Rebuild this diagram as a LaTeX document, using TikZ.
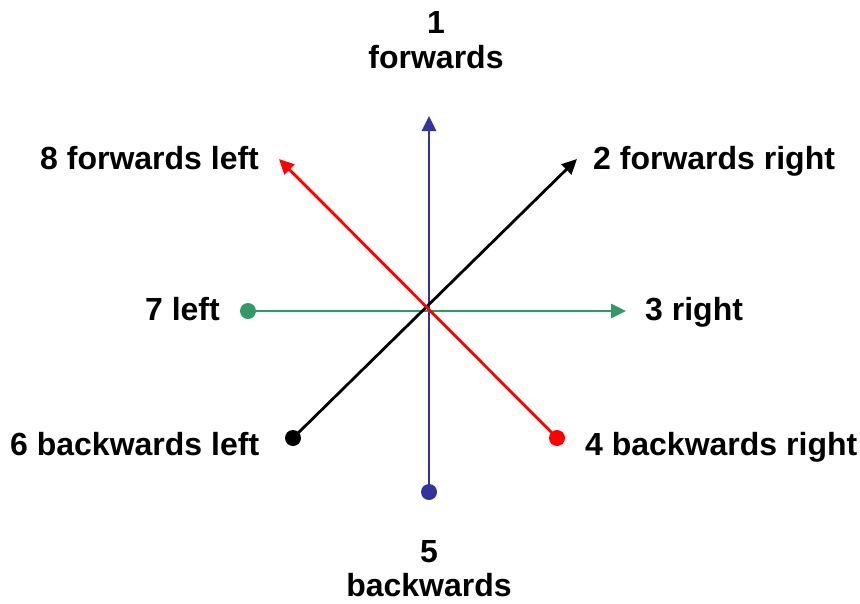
\documentclass[tikz,border=0pt]{standalone}
\usepackage{fontspec}
\setmainfont{Liberation Sans}
\usetikzlibrary{arrows.meta}
\definecolor{dblue}{HTML}{333399}
\definecolor{dgreen}{HTML}{339966}
\definecolor{dred}{HTML}{FF0000}
\tikzset{
  lbl/.style={inner sep=0pt, font=\fontsize{32}{38}\selectfont\bfseries},
  dirline/.style={line width=2.8pt, -{Triangle[length=15pt,width=14pt]}},
  enddot/.style={circle, inner sep=0pt, minimum size=16pt, fill=#1, draw=none},
}
\begin{document}
\begin{tikzpicture}[x=1pt,y=-1pt]
\useasboundingbox (0,0) rectangle (860,603);
% labels
\node[lbl, anchor=base] (n1) at (436,33) {1};
\node[lbl, anchor=base] (n1t) at (436,68) {forwards};
\node[lbl, anchor=base] (n5) at (429,562) {5};
\node[lbl, anchor=base] (n5t) at (429,596) {backwards};
\node[lbl, anchor=base west] (n8) at (40,169) {8 forwards left};
\node[lbl, anchor=base west] (n2) at (593,169) {2 forwards right};
\node[lbl, anchor=base east] (n7) at (220,320) {7 left};
\node[lbl, anchor=base west] (n3) at (645,320) {3 right};
\node[lbl, anchor=base west] (n6) at (10,455) {6 backwards left};
\node[lbl, anchor=base west] (n4) at (585,455) {4 backwards right};
% end dots
\node[enddot=dblue] (d5) at (429,492) {};
\node[enddot=dgreen] (d7) at (248,311) {};
\node[enddot=black] (d6) at (293,438) {};
\node[enddot=dred] (d4) at (557,438) {};
% arrow tips
\coordinate (t1) at (429,116);
\coordinate (t3) at (626,311);
\coordinate (t2) at (577,159);
\coordinate (t8) at (279,159);
% lines
\draw[dirline, dblue] (d5.center) -- (t1);
\draw[dirline, dgreen] (d7.center) -- (t3);
\draw[dirline, black] (d6.center) -- (t2);
\draw[dirline, dred] (d4.center) -- (t8);
\end{tikzpicture}
\end{document}
